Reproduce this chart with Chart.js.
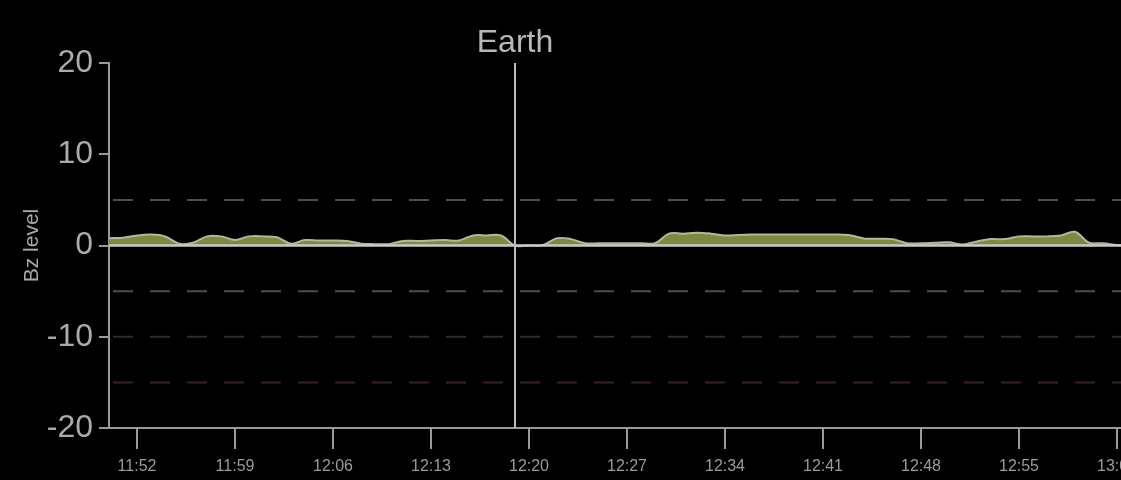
<!DOCTYPE html>
<html>
<head>
<meta charset="utf-8">
<script src="https://cdn.jsdelivr.net/npm/chart.js@4.4.1/dist/chart.umd.min.js"></script>
<style>
  html, body { margin: 0; padding: 0; background: #000; overflow: hidden; }
  #wrap { width: 1121px; height: 480px; overflow: hidden; }
</style>
</head>
<body>
<div id="wrap"><canvas id="bz" width="1160" height="480"></canvas></div>
<script>
// minutes since midnight, one reading per minute (11:50 -> 13:05)
const minutes = [
  710, 711, 712, 713, 714, 715, 716, 717, 718, 719,
  720, 721, 722, 723, 724, 725, 726, 727, 728, 729,
  730, 731, 732, 733, 734, 735, 736, 737, 738, 739,
  740, 741, 742, 743, 744, 745, 746, 747, 748, 749,
  750, 751, 752, 753, 754, 755, 756, 757, 758, 759,
  760, 761, 762, 763, 764, 765, 766, 767, 768, 769,
  770, 771, 772, 773, 774, 775, 776, 777, 778, 779,
  780, 781, 782, 783, 784, 785
];
const bzValues = [
  0.8, 0.85, 1.1, 1.2, 1.0, 0.2, 0.3, 1.0, 1.0, 0.6,
  1.0, 1.0, 0.9, 0.2, 0.6, 0.55, 0.55, 0.5, 0.2, 0.15,
  0.15, 0.5, 0.5, 0.55, 0.6, 0.55, 1.1, 1.1, 1.1, 0.0,
  0.0, 0.05, 0.8, 0.7, 0.25, 0.25, 0.25, 0.25, 0.25, 0.25,
  1.3, 1.3, 1.4, 1.3, 1.1, 1.15, 1.2, 1.2, 1.2, 1.2,
  1.2, 1.2, 1.2, 1.1, 0.75, 0.75, 0.7, 0.25, 0.25, 0.3,
  0.35, 0.1, 0.45, 0.7, 0.7, 1.0, 1.0, 1.0, 1.1, 1.5,
  0.3, 0.25, 0.05, 0.0, 0.0, 0.0
];
const xTicks = [712, 719, 726, 733, 740, 747, 754, 761, 768, 775, 782];
const yTicks = [-20, -10, 0, 10, 20];
const refLevels = [5, -5, -10, -15];
const refColors = ["#4e4e4e", "#4e4e4e", "#2e2e2e", "#3a2222"];
const earthTime = 739;
const earthLabel = "Earth";

const FONT = "'Liberation Sans', Arial, sans-serif";

const fmtTime = (m) => {
  const h = Math.floor(m / 60);
  const mm = Math.round(m % 60);
  return h + ":" + String(mm).padStart(2, "0");
};

// black background, dashed levels, earth marker, zero line
const decor = {
  id: "decor",
  beforeDraw(chart) {
    const ctx = chart.ctx;
    ctx.save();
    ctx.fillStyle = "#000";
    ctx.fillRect(0, 0, chart.width, chart.height);
    ctx.restore();
  },
  beforeDatasetsDraw(chart) {
    const { ctx, chartArea, scales } = chart;
    ctx.save();
    ctx.lineWidth = 2;
    ctx.setLineDash([20, 17]);
    refLevels.forEach((v, i) => {
      const y = scales.y.getPixelForValue(v);
      ctx.strokeStyle = refColors[i];
      ctx.beginPath();
      ctx.moveTo(chartArea.left + 4, y);
      ctx.lineTo(chartArea.right, y);
      ctx.stroke();
    });
    ctx.restore();
  },
  afterDatasetsDraw(chart) {
    const { ctx, chartArea, scales } = chart;
    ctx.save();
    // zero line
    const y0 = scales.y.getPixelForValue(0);
    ctx.strokeStyle = "#c9c9c9";
    ctx.lineWidth = 2.5;
    ctx.beginPath();
    ctx.moveTo(chartArea.left, y0);
    ctx.lineTo(chartArea.right, y0);
    ctx.stroke();
    // earth line
    const xe = scales.x.getPixelForValue(earthTime);
    ctx.strokeStyle = "#bdbdbd";
    ctx.lineWidth = 2;
    ctx.beginPath();
    ctx.moveTo(xe, chartArea.top);
    ctx.lineTo(xe, chartArea.bottom);
    ctx.stroke();
    ctx.fillStyle = "#b8b8b8";
    ctx.font = "32px " + FONT;
    ctx.textAlign = "center";
    ctx.textBaseline = "middle";
    ctx.fillText(earthLabel, xe, chartArea.top - 20);
    ctx.restore();
  }
};

new Chart(document.getElementById("bz"), {
  type: "line",
  data: {
    datasets: [{
      data: minutes.map((m, i) => ({ x: m, y: bzValues[i] })),
      borderColor: "#b4b89a",
      borderWidth: 2,
      backgroundColor: "#7e8840",
      fill: "origin",
      tension: 0.35,
      pointRadius: 0
    }]
  },
  options: {
    responsive: false,
    animation: false,
    layout: { padding: { top: 63, right: 1, left: 0, bottom: 0 } },
    plugins: { legend: { display: false }, tooltip: { enabled: false } },
    scales: {
      x: {
        type: "linear",
        min: 710,
        max: 785,
        afterBuildTicks: (scale) => { scale.ticks = xTicks.map((v) => ({ value: v })); },
        afterFit: (scale) => { scale.height = 52; },
        border: { display: true, color: "#9a9a9a", width: 2 },
        grid: { drawOnChartArea: false, drawTicks: true, tickLength: 21, color: "#9a9a9a", lineWidth: 2 },
        ticks: {
          color: "#9a9a9a",
          padding: 8,
          maxRotation: 0,
          autoSkip: false,
          font: { family: FONT, size: 16 },
          callback: (v) => fmtTime(v)
        }
      },
      y: {
        min: -20,
        max: 20,
        afterBuildTicks: (scale) => { scale.ticks = yTicks.map((v) => ({ value: v })); },
        afterFit: (scale) => { scale.width = 109; },
        border: { display: true, color: "#9a9a9a", width: 2 },
        grid: { drawOnChartArea: false, drawTicks: true, tickLength: 10, color: "#9a9a9a", lineWidth: 2 },
        ticks: {
          color: "#aaaaaa",
          padding: 6,
          font: { family: FONT, size: 32 }
        },
        title: {
          display: true,
          text: "Bz level",
          color: "#aaaaaa",
          padding: { top: 20, bottom: 0 },
          font: { family: FONT, size: 21 }
        }
      }
    }
  },
  plugins: [decor]
});
</script>
</body>
</html>
